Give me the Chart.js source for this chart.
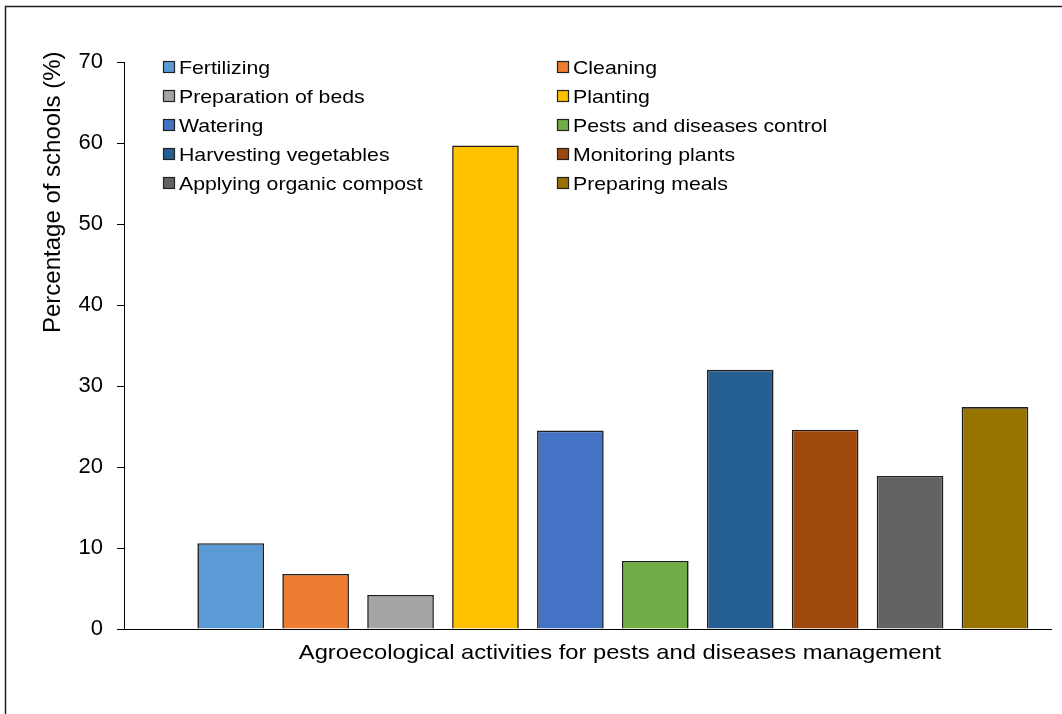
<!DOCTYPE html>
<html>
<head>
<meta charset="utf-8">
<script src="https://cdn.jsdelivr.net/npm/chart.js@4.4.0/dist/chart.umd.min.js"></script>
<style>
html, body { margin: 0; padding: 0; background: #fff; }
#wrap { position: relative; width: 1062px; height: 714px; }
</style>
</head>
<body>
<div id="wrap"><canvas id="myChart"></canvas></div>
<script>
// data
const activities = ["Fertilizing", "Cleaning", "Preparation of beds", "Planting", "Watering",
  "Pests and diseases control", "Harvesting vegetables", "Monitoring plants",
  "Applying organic compost", "Preparing meals"];
const percentages = [10.6, 6.8, 4.2, 59.7, 24.5, 8.4, 32.0, 24.6, 18.9, 27.4];
const colorHex = ["#5b9bd5", "#ed7d31", "#a5a5a5", "#ffc000", "#4472c4",
  "#70ad47", "#255e91", "#9e480e", "#636363", "#997300"];
const yTitle = 'Percentage of schools (%)';
const xTitle = 'Agroecological activities for pests and diseases management';

const FONT = '"Liberation Sans", Arial, sans-serif';
Chart.defaults.font.family = FONT;
Chart.defaults.color = '#000';

// one dataset per activity so every bar gets its own legend entry
const datasets = activities.map((name, i) => ({
  label: name,
  data: [{ x: i + 1, y: percentages[i] }],
  backgroundColor: colorHex[i],
  borderColor: '#1f1f1f',
  borderWidth: 1.6,
  grouped: false,
  categoryPercentage: 1,
  barPercentage: 0.785
}));

// frame, legend and axis titles
const extras = {
  id: 'extras',
  afterDraw(chart) {
    const ctx = chart.ctx;
    ctx.save();
    ctx.strokeStyle = '#1e1e1e';
    ctx.lineWidth = 1.5;
    ctx.beginPath();
    ctx.moveTo(5.5, 714);
    ctx.lineTo(5.5, 6.5);
    ctx.lineTo(1062, 6.5);
    ctx.stroke();

    // legend, two columns
    ctx.font = '19px ' + FONT;
    ctx.textBaseline = 'alphabetic';
    ctx.textAlign = 'left';
    activities.forEach((name, i) => {
      const bx = (i % 2) ? 557 : 163;
      const by = 74 + Math.floor(i / 2) * 29;
      ctx.fillStyle = colorHex[i];
      ctx.fillRect(bx, by - 13, 12, 12);
      ctx.strokeStyle = '#222';
      ctx.lineWidth = 1.2;
      ctx.strokeRect(bx + 0.5, by - 12.5, 11, 11);
      ctx.fillStyle = '#000';
      ctx.save();
      ctx.translate(bx + 16, by);
      ctx.scale(1.12, 1);
      ctx.fillText(name, 0, 0);
      ctx.restore();
    });

    // x title
    ctx.font = '21px ' + FONT;
    ctx.textAlign = 'center';
    ctx.save();
    ctx.translate(620, 659);
    ctx.scale(1.13, 1);
    ctx.fillText(xTitle, 0, 0);
    ctx.restore();

    // y title
    ctx.font = '24px ' + FONT;
    ctx.textAlign = 'left';
    ctx.save();
    ctx.translate(60, 333);
    ctx.rotate(-Math.PI / 2);
    ctx.fillText(yTitle, 0, 0);
    ctx.restore();
    ctx.restore();
  }
};

const unit = 84.92;
const ctx = document.getElementById('myChart').getContext('2d');
const myChart = new Chart(ctx, {
  type: 'bar',
  data: { datasets: datasets },
  options: {
    responsive: true,
    maintainAspectRatio: false,
    animation: false,
    layout: { padding: { top: 62, right: 11, left: 0, bottom: 0 } },
    plugins: {
      legend: { display: false },
      tooltip: { enabled: false }
    },
    scales: {
      x: {
        type: 'linear',
        offset: false,
        min: 1 - 106.7 / unit,
        max: 1 - 106.7 / unit + 927 / unit,
        grid: { display: false },
        border: { display: true, color: '#000', width: 1 },
        ticks: { display: false },
        afterBuildTicks: s => { s.ticks = activities.map((_, i) => ({ value: i + 1 })); },
        afterFit: s => { s.height = 85; s.paddingLeft = 0; s.paddingRight = 0; }
      },
      y: {
        min: 0,
        max: 70,
        ticks: { stepSize: 10, padding: 14, font: { size: 22 }, color: '#000' },
        grid: { drawOnChartArea: false, drawTicks: true, tickLength: 7, color: '#000', lineWidth: 1 },
        border: { display: true, color: '#000', width: 1 },
        afterFit: s => { s.width = 124; s.paddingTop = 0; s.paddingBottom = 0; }
      }
    }
  },
  plugins: [extras]
});
</script>
</body>
</html>
